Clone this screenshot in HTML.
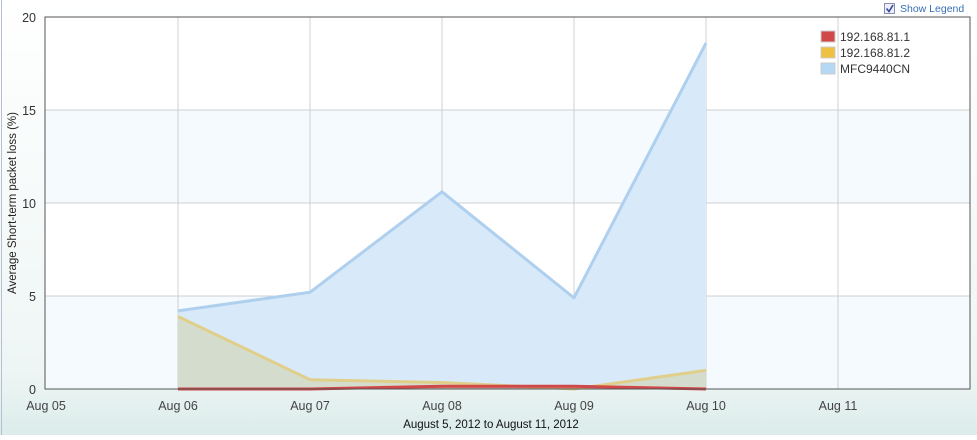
<!DOCTYPE html>
<html><head><meta charset="utf-8"><style>
body{margin:0;width:977px;height:435px;overflow:hidden;font-family:"Liberation Sans",sans-serif;background:#fff}
</style></head><body>
<svg width="977" height="435" xmlns="http://www.w3.org/2000/svg">
<defs><linearGradient id="bg" x1="0" y1="0" x2="0" y2="1"><stop offset="0" stop-color="#fff"/><stop offset="0.85" stop-color="#eef6f5"/><stop offset="1" stop-color="#dbecea"/></linearGradient></defs>
<rect x="0" y="0" width="977" height="435" fill="url(#bg)"/>
<line x1="1.5" y1="0" x2="1.5" y2="435" stroke="#b8bfd0"/>
<g id="plot"></g>
<g>
<rect x="884.5" y="3.5" width="10" height="10" fill="#eef" stroke="#8890a8"/>
<path d="M886.5 8.5 L889 11.5 L893 5" fill="none" stroke="#334a9a" stroke-width="1.6"/>
<text x="900" y="12" font-size="10.5" fill="#3a6fb5">Show Legend</text>
</g>
<g>
<rect x="821" y="31" width="14" height="11" fill="#d04848" stroke="#ccc"/>
<text x="840" y="41" font-size="12" fill="#333">192.168.81.1</text>
<rect x="821" y="47" width="14" height="11" fill="#f0c040" stroke="#ccc"/>
<text x="840" y="57" font-size="12" fill="#333">192.168.81.2</text>
<rect x="821" y="63" width="14" height="11" fill="#b5d8f5" stroke="#ccc"/>
<text x="840" y="73" font-size="12" fill="#333">MFC9440CN</text>
</g>
<text transform="translate(16,203) rotate(-90)" text-anchor="middle" font-size="11.5" fill="#222">Average Short-term packet loss (%)</text>
<text x="491" y="428" text-anchor="middle" font-size="11.5" fill="#111">August 5, 2012 to August 11, 2012</text>
</svg>
<script>
const xLabels=["Aug 05","Aug 06","Aug 07","Aug 08","Aug 09","Aug 10","Aug 11"];
const yTicks=[0,5,10,15,20];
const seriesDays=[1,2,3,4,5];
const mfcValues=[4.2,5.2,10.6,4.9,18.6];
const ip2Values=[3.9,0.5,0.35,0.0,1.0];
const ip1Values=[0.0,0.0,0.15,0.15,0.0];
const L=45,R=970,T=17,B=389,yMax=20;
const X=d=>46+d*132;
const Y=v=>B-(v/yMax)*(B-T);
const ns="http://www.w3.org/2000/svg";
const g=document.getElementById('plot');
function mk(t,a){const e=document.createElementNS(ns,t);for(const k in a)e.setAttribute(k,a[k]);g.appendChild(e);return e;}
// bands
for(let i=0;i<yTicks.length-1;i++){
 const b=mk('rect',{x:L,y:Y(yTicks[i+1]),width:R-L,height:Y(yTicks[i])-Y(yTicks[i+1]),fill:i%2===0?'#f5fafe':'#fff'});
 
 
}
yTicks.forEach(t=>{
 const l=mk('line',{x1:L,x2:R,y1:Y(t),y2:Y(t),stroke:'#d0d0d0'});
 
 
 const tx=mk('text',{x:L-9,y:Y(t)+5,'text-anchor':'end','font-size':'12.5',fill:'#333'});tx.textContent=t;
 
 
});
xLabels.forEach((s,i)=>{
 if(i>0){const l=mk('line',{x1:X(i),x2:X(i),y1:T,y2:B,stroke:'#d0d0d0'});
 
 }
 const tx=mk('text',{x:X(i),y:410,'text-anchor':'middle','font-size':'12.5',fill:'#444'});tx.textContent=s;
 
 
});
function area(vals,fill,stroke,name,op){
 let pts=seriesDays.map((d,i)=>X(d)+','+Y(vals[i])).join(' ');
 const a=mk('polygon',{points:X(seriesDays[0])+','+B+' '+pts+' '+X(seriesDays[seriesDays.length-1])+','+B,fill:fill,'fill-opacity':op});
 
 
 const l=mk('polyline',{points:pts,fill:'none',stroke:stroke,'stroke-width':3,'stroke-linejoin':'round'});
 
 
}
area(mfcValues,'#d8e9f9','#aed0ee','mfc9440cn',1);
area(ip2Values,'#d4dcc8','#e0cf8a','ip-192-168-81-2',0.9);
area(ip1Values,'#d04848','#d04848','ip-192-168-81-1',0.3);
const ax=mk('path',{d:`M${L} ${T} L${R} ${T} L${R} ${B} L${L} ${B} Z`,fill:'none',stroke:'#555','stroke-width':1});


</script>
</body></html>
